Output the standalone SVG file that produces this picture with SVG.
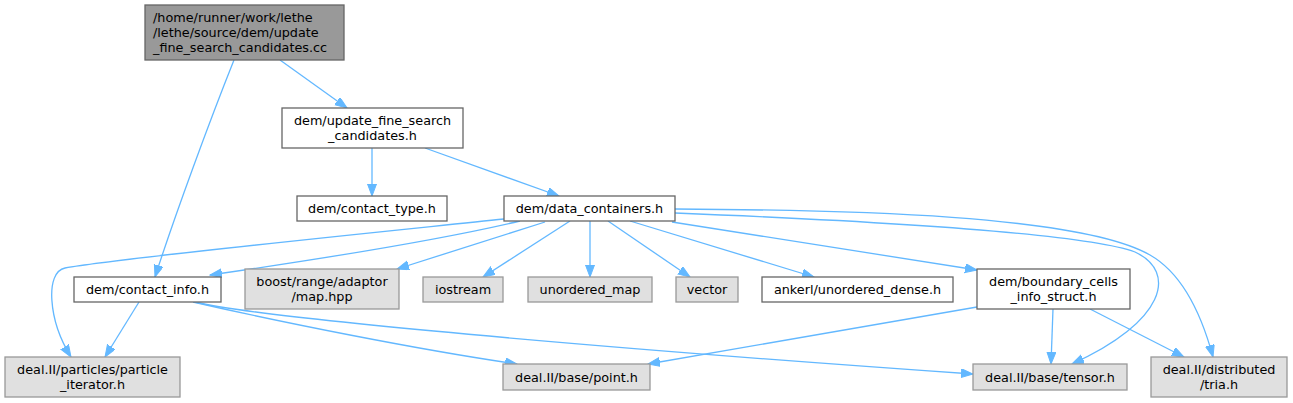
<svg xmlns="http://www.w3.org/2000/svg" width="1293" height="403" viewBox="0 0 1293 403">
<style>
text{font-family:"DejaVu Sans","Liberation Sans",sans-serif;font-size:12.8px;fill:#000}
.c{text-anchor:middle}
.w{fill:#fff;stroke:#666;stroke-width:1.3}
.g{fill:#e0e0e0;stroke:#999;stroke-width:1.3}
.r{fill:#999;stroke:#666;stroke-width:1.3}
.e{fill:none;stroke:#63b8ff;stroke-width:1.3;marker-end:url(#ah)}
</style>
<defs>
<marker id="ah" markerUnits="userSpaceOnUse" markerWidth="13" markerHeight="10" refX="12" refY="4.5" orient="auto"><path d="M0,0 L12,4.5 L0,9 z" fill="#63b8ff" stroke="#63b8ff"/></marker>
</defs>
<rect width="1293" height="403" fill="#fff"/>
<g id="edges">
<path class="e" d="M280,60 L347,108"/>
<path class="e" d="M234,60 C210,120 175,215 155,277"/>
<path class="e" d="M372,148 L372,196"/>
<path class="e" d="M425,148 L559,196"/>
<path class="e" d="M504,219 C380,232 120,258 65,268 C45,272 48,320 71,357"/>
<path class="e" d="M520,221 C440,240 300,262 210,275"/>
<path class="e" d="M545,222 L397,269"/>
<path class="e" d="M570,221 L483,277"/>
<path class="e" d="M590,221 L590,277"/>
<path class="e" d="M608,221 L690,277"/>
<path class="e" d="M630,221 L814,277"/>
<path class="e" d="M672,222 L977,270"/>
<path class="e" d="M675,213 C850,220 1080,232 1135,252 C1178,272 1165,322 1072,364"/>
<path class="e" d="M675,209 C850,210 1080,215 1150,255 C1185,275 1203,320 1213,357"/>
<path class="e" d="M139,302 L105,357"/>
<path class="e" d="M193,302 C280,322 420,350 517,364"/>
<path class="e" d="M195,302 C260,318 600,348 973,374"/>
<path class="e" d="M977,307 L648,364"/>
<path class="e" d="M1053,309 L1051,364"/>
<path class="e" d="M1090,309 L1184,357"/>
</g>
<g id="root"><rect class="r" x="145" y="5" width="199" height="55"/><text x="153" y="21.5">/home/runner/work/lethe</text><text x="153" y="36.5">/lethe/source/dem/update</text><text x="153" y="51.5">_fine_search_candidates.cc</text></g>
<g id="upd"><rect class="w" x="282" y="108" width="181" height="40"/><text class="c" x="372.5" y="124.5">dem/update_fine_search</text><text class="c" x="372.5" y="139.5">_candidates.h</text></g>
<g id="ctype"><rect class="w" x="297" y="196" width="150" height="25"/><text class="c" x="372" y="213">dem/contact_type.h</text></g>
<g id="dc"><rect class="w" x="504" y="196" width="171" height="25"/><text class="c" x="589.5" y="213">dem/data_containers.h</text></g>
<g id="cinfo"><rect class="w" x="74" y="277" width="147" height="25"/><text class="c" x="147.5" y="294">dem/contact_info.h</text></g>
<g id="boost"><rect class="g" x="245" y="269" width="154" height="40"/><text class="c" x="322" y="285.5">boost/range/adaptor</text><text class="c" x="322" y="300.5">/map.hpp</text></g>
<g id="iostream"><rect class="g" x="423" y="277" width="80" height="25"/><text class="c" x="463" y="294">iostream</text></g>
<g id="umap"><rect class="g" x="528" y="277" width="124" height="25"/><text class="c" x="590" y="294">unordered_map</text></g>
<g id="vector"><rect class="g" x="676" y="277" width="62" height="25"/><text class="c" x="707" y="294">vector</text></g>
<g id="ankerl"><rect class="w" x="762" y="277" width="191" height="25"/><text class="c" x="857.5" y="294">ankerl/unordered_dense.h</text></g>
<g id="bcis"><rect class="w" x="977" y="269" width="153" height="40"/><text class="c" x="1053.5" y="285.5">dem/boundary_cells</text><text class="c" x="1053.5" y="300.5">_info_struct.h</text></g>
<g id="tensor"><rect class="g" x="973" y="364" width="154" height="26"/><text class="c" x="1050" y="381.5">deal.II/base/tensor.h</text></g>
<g id="tria"><rect class="g" x="1151" y="357" width="136" height="40"/><text class="c" x="1219" y="373.5">deal.II/distributed</text><text class="c" x="1219" y="388.5">/tria.h</text></g>
<g id="piter"><rect class="g" x="5" y="357" width="175" height="40"/><text class="c" x="92.5" y="373.5">deal.II/particles/particle</text><text class="c" x="92.5" y="388.5">_iterator.h</text></g>
<g id="point"><rect class="g" x="503" y="364" width="147" height="26"/><text class="c" x="576.5" y="381.5">deal.II/base/point.h</text></g>
</svg>
